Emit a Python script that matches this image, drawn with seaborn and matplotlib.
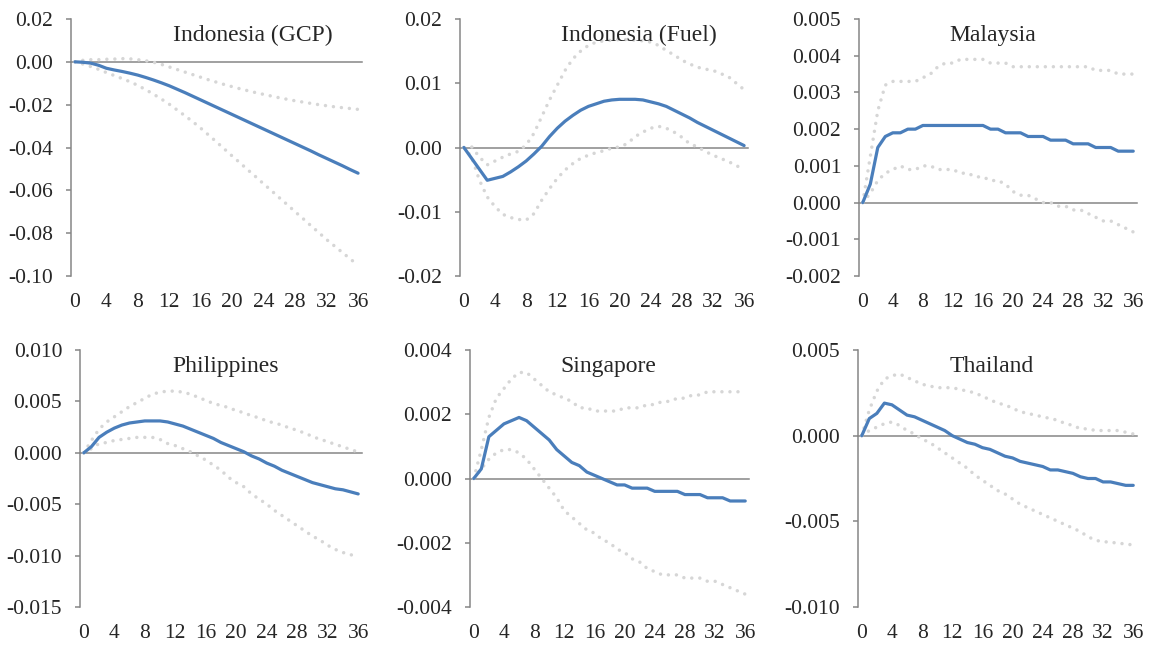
import matplotlib
matplotlib.use("Agg")
import matplotlib.pyplot as plt
import seaborn as sns
from matplotlib.ticker import FixedLocator, FuncFormatter

# Horizon (months after the shock)
horizon = list(range(37))

# Indonesia (GCP)
idn_gcp_irf = [0.0, -0.0002, -0.0006, -0.0016, -0.0030, -0.0038, -0.0045, -0.0053, -0.0062,
               -0.0073, -0.0085, -0.0098, -0.0112, -0.0128, -0.0144, -0.0161, -0.0178, -0.0195,
               -0.0212, -0.0229, -0.0246, -0.0263, -0.0280, -0.0297, -0.0314, -0.0331, -0.0348,
               -0.0365, -0.0382, -0.0399, -0.0416, -0.0434, -0.0451, -0.0468, -0.0485, -0.0503,
               -0.0520]
idn_gcp_hi = [0.0, 0.0007, 0.0010, 0.0010, 0.0012, 0.0013, 0.0015, 0.0014, 0.0010, 0.0005,
              -0.0002, -0.0012, -0.0024, -0.0036, -0.0048, -0.0060, -0.0072, -0.0084, -0.0095,
              -0.0106, -0.0116, -0.0126, -0.0135, -0.0144, -0.0152, -0.0160, -0.0168, -0.0175,
              -0.0182, -0.0188, -0.0194, -0.0200, -0.0205, -0.0210, -0.0214, -0.0218, -0.0222]
idn_gcp_lo = [0.0, -0.0010, -0.0022, -0.0035, -0.0050, -0.0064, -0.0078, -0.0093, -0.0110,
              -0.0130, -0.0151, -0.0174, -0.0198, -0.0225, -0.0252, -0.0280, -0.0310, -0.0342,
              -0.0374, -0.0407, -0.0440, -0.0472, -0.0505, -0.0537, -0.0570, -0.0602, -0.0635,
              -0.0667, -0.0700, -0.0732, -0.0765, -0.0797, -0.0830, -0.0860, -0.0890, -0.0920,
              -0.0950]

# Indonesia (Fuel)
idn_fuel_irf = [0.0, -0.0017, -0.0034, -0.0051, -0.0048, -0.0045, -0.0038, -0.0030, -0.0021,
                -0.0010, 0.0002, 0.0017, 0.0030, 0.0041, 0.0050, 0.0058, 0.0064, 0.0068, 0.0072,
                0.0074, 0.0075, 0.0075, 0.0075, 0.0074, 0.0071, 0.0068, 0.0064, 0.0058, 0.0052,
                0.0046, 0.0039, 0.0033, 0.0027, 0.0021, 0.0015, 0.0009, 0.0003]
idn_fuel_hi = [0.0, 0.0001, -0.0015, -0.0027, -0.0021, -0.0015, -0.0010, -0.0006, 0.0004,
               0.0022, 0.0048, 0.0074, 0.0097, 0.0120, 0.0138, 0.0150, 0.0159, 0.0164, 0.0166,
               0.0167, 0.0168, 0.0168, 0.0167, 0.0166, 0.0164, 0.0159, 0.0151, 0.0144, 0.0136,
               0.0130, 0.0125, 0.0122, 0.0120, 0.0115, 0.0110, 0.0100, 0.0090]
idn_fuel_lo = [0.0, -0.0015, -0.0051, -0.0077, -0.0092, -0.0104, -0.0109, -0.0112, -0.0113,
               -0.0103, -0.0082, -0.0064, -0.0048, -0.0035, -0.0025, -0.0017, -0.0012, -0.0008,
               -0.0005, -0.0001, 0.0001, 0.0006, 0.0017, 0.0024, 0.0030, 0.0033, 0.0030, 0.0024,
               0.0016, 0.0006, 0.0001, -0.0006, -0.0012, -0.0017, -0.0022, -0.0028, -0.0035]

# Malaysia
mys_irf = [0.0, 0.0005, 0.0015, 0.0018, 0.0019, 0.0019, 0.0020, 0.0020, 0.0021, 0.0021,
           0.0021, 0.0021, 0.0021, 0.0021, 0.0021, 0.0021, 0.0021, 0.0020, 0.0020, 0.0019,
           0.0019, 0.0019, 0.0018, 0.0018, 0.0018, 0.0017, 0.0017, 0.0017, 0.0016, 0.0016,
           0.0016, 0.0015, 0.0015, 0.0015, 0.0014, 0.0014, 0.0014]
mys_hi = [0.0, 0.00125, 0.0025, 0.0032, 0.0033, 0.0033, 0.0033, 0.0033, 0.0034, 0.0035,
          0.0037, 0.0038, 0.0038, 0.0039, 0.0039, 0.0039, 0.0039, 0.0038, 0.0038, 0.0038,
          0.0037, 0.0037, 0.0037, 0.0037, 0.0037, 0.0037, 0.0037, 0.0037, 0.0037, 0.0037,
          0.0037, 0.0036, 0.0036, 0.0036, 0.0035, 0.0035, 0.0035]
mys_lo = [0.0, 0.00025, 0.0006, 0.0008, 0.0009, 0.0010, 0.0009, 0.0009, 0.0010, 0.0010,
          0.0009, 0.0009, 0.0009, 0.0008, 0.0008, 0.0007, 0.0007, 0.0006, 0.0006, 0.0005,
          0.0003, 0.0002, 0.0002, 0.0001, 0.0000, 0.0000, -0.0001, -0.0001, -0.0002, -0.0002,
          -0.0003, -0.0004, -0.0005, -0.0005, -0.0006, -0.0007, -0.0008]

# Philippines
phl_irf = [0.0, 0.0006, 0.0015, 0.0020, 0.0024, 0.0027, 0.0029, 0.0030, 0.0031, 0.0031,
           0.0031, 0.0030, 0.0028, 0.0026, 0.0023, 0.0020, 0.0017, 0.0014, 0.0010, 0.0007,
           0.0004, 0.0001, -0.0003, -0.0006, -0.0010, -0.0013, -0.0017, -0.0020, -0.0023,
           -0.0026, -0.0029, -0.0031, -0.0033, -0.0035, -0.0036, -0.0038, -0.0040]
phl_hi = [0.0, 0.0012, 0.0023, 0.0030, 0.0035, 0.0040, 0.0045, 0.0049, 0.0053, 0.0057,
          0.0059, 0.0060, 0.0060, 0.0059, 0.0057, 0.0054, 0.0051, 0.0048, 0.0046, 0.0044,
          0.0041, 0.0039, 0.0036, 0.0034, 0.0031, 0.0029, 0.0027, 0.0024, 0.0022, 0.0019,
          0.0016, 0.0013, 0.0011, 0.0008, 0.0006, 0.0003, 0.0001]
phl_lo = [0.0, 0.0004, 0.0009, 0.0010, 0.0012, 0.0013, 0.0014, 0.0015, 0.0015, 0.0015,
          0.0013, 0.0009, 0.0007, 0.0004, 0.0001, -0.0003, -0.0007, -0.0012, -0.0017, -0.0024,
          -0.0029, -0.0033, -0.0040, -0.0045, -0.0050, -0.0056, -0.0061, -0.0066, -0.0071,
          -0.0076, -0.0081, -0.0085, -0.0090, -0.0094, -0.0097, -0.0099, -0.0102]

# Singapore
sgp_irf = [0.0, 0.0003, 0.0013, 0.0015, 0.0017, 0.0018, 0.0019, 0.0018, 0.0016, 0.0014,
           0.0012, 0.0009, 0.0007, 0.0005, 0.0004, 0.0002, 0.0001, 0.0000, -0.0001, -0.0002,
           -0.0002, -0.0003, -0.0003, -0.0003, -0.0004, -0.0004, -0.0004, -0.0004, -0.0005,
           -0.0005, -0.0005, -0.0006, -0.0006, -0.0006, -0.0007, -0.0007, -0.0007]
sgp_hi = [0.0, 0.0009, 0.0019, 0.0025, 0.0028, 0.0031, 0.0033, 0.0033, 0.0031, 0.0029,
          0.0027, 0.0026, 0.0025, 0.0024, 0.0022, 0.0022, 0.0021, 0.0021, 0.0021, 0.0021,
          0.0022, 0.0022, 0.0022, 0.0023, 0.0023, 0.0024, 0.0024, 0.0025, 0.0025, 0.0026,
          0.0026, 0.0027, 0.0027, 0.0027, 0.0027, 0.0027, 0.0027]
sgp_lo = [0.0, 0.0003, 0.0006, 0.0008, 0.0009, 0.0009, 0.0008, 0.0006, 0.0003, 0.0000,
          -0.0003, -0.0006, -0.0010, -0.0012, -0.0014, -0.0016, -0.0017, -0.0019, -0.0020,
          -0.0022, -0.0023, -0.0025, -0.0026, -0.0028, -0.0029, -0.0030, -0.0030, -0.0030,
          -0.0031, -0.0031, -0.0031, -0.0032, -0.0032, -0.0033, -0.0034, -0.0035, -0.0036]

# Thailand
tha_irf = [0.0, 0.0010, 0.0013, 0.0019, 0.0018, 0.0015, 0.0012, 0.0011, 0.0009, 0.0007,
           0.0005, 0.0003, 0.0000, -0.0002, -0.0004, -0.0005, -0.0007, -0.0008, -0.0010,
           -0.0012, -0.0013, -0.0015, -0.0016, -0.0017, -0.0018, -0.0020, -0.0020, -0.0021,
           -0.0022, -0.0024, -0.0025, -0.0025, -0.0027, -0.0027, -0.0028, -0.0029, -0.0029]
tha_hi = [0.0, 0.0015, 0.0026, 0.0033, 0.0035, 0.0036, 0.0034, 0.0032, 0.0030, 0.0029,
          0.0028, 0.0028, 0.0028, 0.0027, 0.0026, 0.0025, 0.0023, 0.0021, 0.0019, 0.0018,
          0.0016, 0.0014, 0.0013, 0.0012, 0.0011, 0.0010, 0.0009, 0.0007, 0.0006, 0.0004,
          0.0004, 0.0003, 0.0003, 0.0003, 0.0003, 0.0002, 0.0001]
tha_lo = [0.0, 0.0003, 0.0005, 0.0007, 0.0008, 0.0006, 0.0003, 0.0001, -0.0002, -0.0004,
          -0.0007, -0.0010, -0.0013, -0.0016, -0.0019, -0.0023, -0.0026, -0.0029, -0.0032,
          -0.0034, -0.0037, -0.0040, -0.0042, -0.0044, -0.0046, -0.0048, -0.0050, -0.0052,
          -0.0054, -0.0056, -0.0059, -0.0061, -0.0062, -0.0062, -0.0063, -0.0063, -0.0064]

titles = ["Indonesia (GCP)", "Indonesia (Fuel)", "Malaysia",
          "Philippines", "Singapore", "Thailand"]
irfs = [idn_gcp_irf, idn_fuel_irf, mys_irf, phl_irf, sgp_irf, tha_irf]
uppers = [idn_gcp_hi, idn_fuel_hi, mys_hi, phl_hi, sgp_hi, tha_hi]
lowers = [idn_gcp_lo, idn_fuel_lo, mys_lo, phl_lo, sgp_lo, tha_lo]
y_min = [-0.10, -0.02, -0.002, -0.015, -0.004, -0.010]
y_max = [0.02, 0.02, 0.005, 0.010, 0.004, 0.005]
y_step = [0.02, 0.01, 0.001, 0.005, 0.002, 0.005]
y_decimals = [2, 2, 3, 3, 3, 3]
x_label_ticks = list(range(0, 37, 4))

# ---- styling ----
W, H = 1150, 646
BLUE = "#4A7EBB"
BAND = "#D6D6D6"
AXIS = "#868686"
DOTS = (0, (0.01, 2.3))

sns.set_style("white")
plt.rcParams["font.family"] = ["Liberation Serif", "DejaVu Serif"]
plt.rcParams["axes.unicode_minus"] = False

fig = plt.figure(figsize=(W / 100, H / 100), dpi=100)

# plot-area rectangles in pixels: left, right, top, bottom
boxes = [(71, 362, 19, 276), (460, 748, 19, 276), (859, 1137, 19, 276),
         (80, 362, 350, 607), (470, 749, 350, 607), (858, 1137, 350, 607)]
title_pos = [(0.625, 0.935), (0.622, 0.935), (0.482, 0.935),
             (0.518, 0.935), (0.495, 0.935), (0.480, 0.935)]

for i in range(6):
    l, r, t, b = boxes[i]
    ax = fig.add_axes([l / W, 1 - b / H, (r - l) / W, (b - t) / H])
    ax.set_facecolor("none")

    sns.lineplot(x=horizon, y=uppers[i], ax=ax, color=BAND, linewidth=2.5,
                 linestyle=DOTS, dash_capstyle="round", zorder=3)
    sns.lineplot(x=horizon, y=lowers[i], ax=ax, color=BAND, linewidth=2.5,
                 linestyle=DOTS, dash_capstyle="round", zorder=3)
    sns.lineplot(x=horizon, y=irfs[i], ax=ax, color=BLUE, linewidth=2.3,
                 solid_joinstyle="round", zorder=4)

    ax.set_xlim(-0.5, 36.5)
    ax.set_ylim(y_min[i], y_max[i])
    n = int(round((y_max[i] - y_min[i]) / y_step[i]))
    yt = [y_min[i] + k * y_step[i] for k in range(n + 1)]
    ax.yaxis.set_major_locator(FixedLocator(yt))
    d = y_decimals[i]
    ax.yaxis.set_major_formatter(FuncFormatter(lambda v, p, d=d: f"{v:.{d}f}"))

    # horizontal axis line through zero with category-boundary ticks
    for s in ["top", "right"]:
        ax.spines[s].set_visible(False)
    ax.spines["bottom"].set_position(("data", 0))
    for s in ["left", "bottom"]:
        ax.spines[s].set_color(AXIS)
        ax.spines[s].set_linewidth(1.1)
    ax.set_xticks([k - 0.5 for k in range(0, 37, 4)])
    ax.tick_params(axis="x", length=3.8, width=1.1, color=AXIS, direction="out",
                   labelbottom=False)
    ax.tick_params(axis="y", length=3.8, width=1.1, color=AXIS, direction="out",
                   pad=9, labelsize=15.5, left=True)
    ax.set_xlabel("")
    ax.set_ylabel("")

    # category labels along the bottom of the plot area
    sec = ax.secondary_xaxis(0)
    sec.set_xticks(x_label_ticks)
    sec.set_xticklabels([str(v) for v in x_label_ticks])
    sec.tick_params(length=0, pad=12, labelsize=15.5)
    sec.spines["bottom"].set_visible(False)

    tx, ty = title_pos[i]
    ax.text(tx, ty, titles[i], transform=ax.transAxes, ha="center", va="center",
            fontsize=17)

fig.savefig("out.png", dpi=100)
